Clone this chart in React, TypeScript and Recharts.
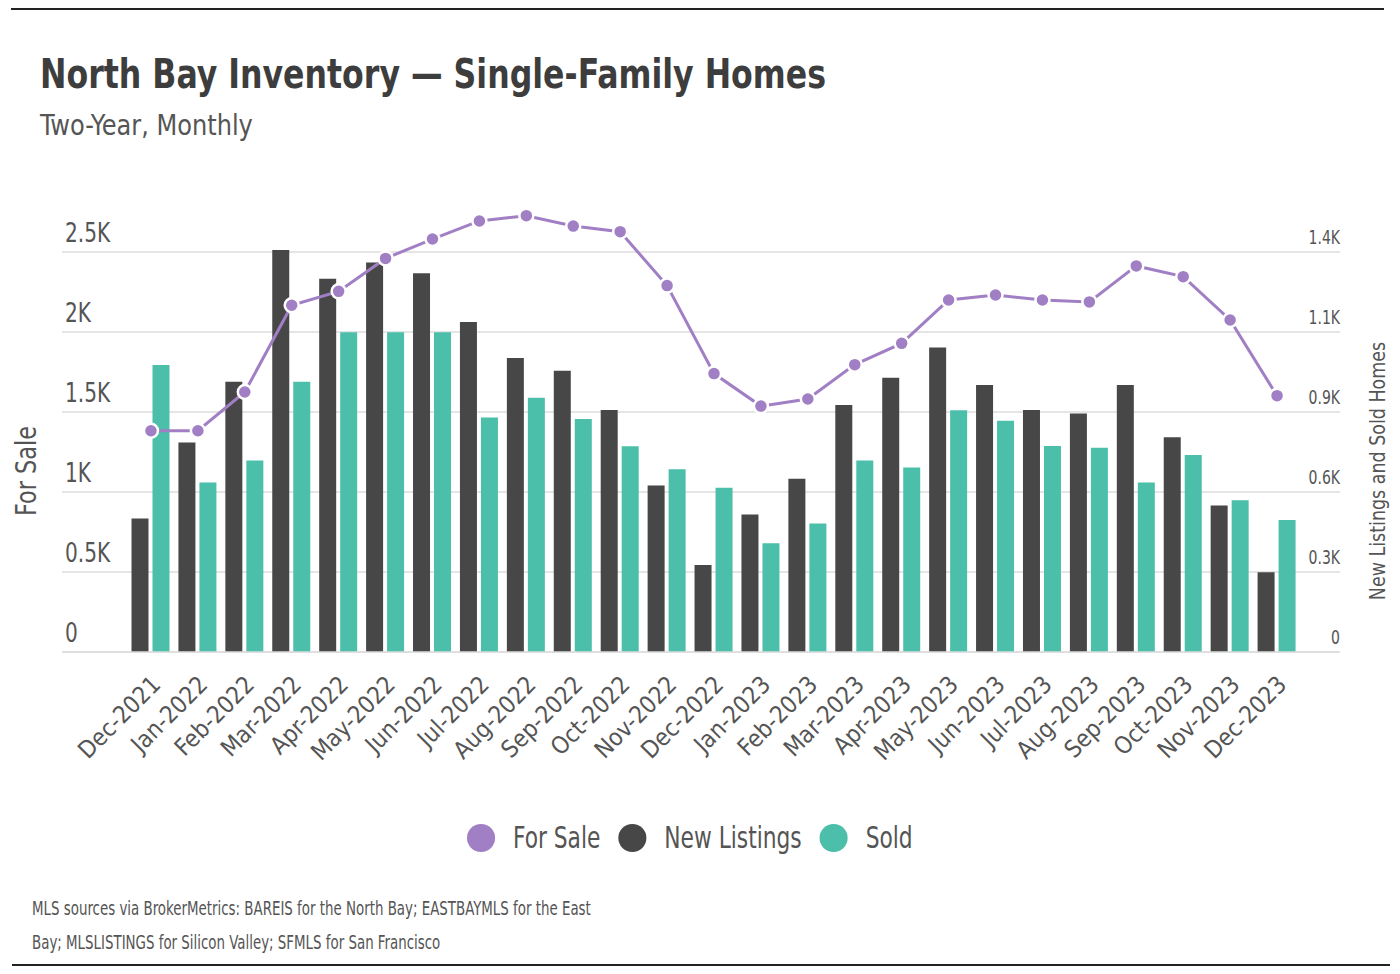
import React from 'react';
import { ComposedChart, Bar, Line, XAxis, YAxis, CartesianGrid } from 'recharts';

const FONT = "'DejaVu Sans Condensed', 'DejaVu Sans', sans-serif";

const MONTHS = [
  'Dec-2021', 'Jan-2022', 'Feb-2022', 'Mar-2022', 'Apr-2022', 'May-2022', 'Jun-2022',
  'Jul-2022', 'Aug-2022', 'Sep-2022', 'Oct-2022', 'Nov-2022', 'Dec-2022', 'Jan-2023',
  'Feb-2023', 'Mar-2023', 'Apr-2023', 'May-2023', 'Jun-2023', 'Jul-2023', 'Aug-2023',
  'Sep-2023', 'Oct-2023', 'Nov-2023', 'Dec-2023',
];

const FOR_SALE = [
  1383, 1383, 1625, 2167, 2254, 2460, 2581, 2694, 2727, 2662, 2627, 2290, 1740, 1537,
  1581, 1796, 1929, 2200, 2231, 2200, 2188, 2413, 2346, 2075, 1602,
];

const NEW_LISTINGS = [
  476, 746, 963, 1432, 1330, 1388, 1349, 1176, 1047, 1002, 862, 593, 310, 490,
  617, 880, 977, 1085, 951, 862, 850, 951, 765, 522, 284,
];

const SOLD = [
  1022, 604, 682, 963, 1139, 1139, 1139, 835, 906, 830, 733, 651, 585, 387,
  458, 682, 657, 861, 824, 734, 728, 604, 702, 541, 470,
];

const LEFT_TICKS = [0, 500, 1000, 1500, 2000, 2500];
const LEFT_TICK_LABELS = ['0', '0.5K', '1K', '1.5K', '2K', '2.5K'];
const RIGHT_TICKS = [0, 285, 570, 855, 1140, 1425];
const RIGHT_TICK_LABELS = ['0', '0.3K', '0.6K', '0.9K', '1.1K', '1.4K'];
const LEFT_DOMAIN = [0, 2800];
const RIGHT_DOMAIN = [0, 1596];

const SERIES_NAMES = ['For Sale', 'New Listings', 'Sold'];
const COLORS = ['#a17fc4', '#474747', '#4bbfaa'];

const data = MONTHS.map((m, i) => ({
  month: m,
  forSale: FOR_SALE[i],
  newListings: NEW_LISTINGS[i],
  sold: SOLD[i],
}));

const LeftTick = (props: any) => {
  const { y, payload } = props;
  const idx = LEFT_TICKS.indexOf(payload.value);
  return (
    <text
      transform={`translate(65, ${y - 10}) scale(0.86, 1)`}
      x={0}
      y={0}
      fontSize={26}
      fill="#555"
      fontFamily={FONT}
      textAnchor="start"
    >
      {LEFT_TICK_LABELS[idx]}
    </text>
  );
};

const RightTick = (props: any) => {
  const { y, payload } = props;
  const idx = RIGHT_TICKS.indexOf(payload.value);
  return (
    <text
      transform={`translate(1340, ${y - 8}) scale(0.78, 1)`}
      x={0}
      y={0}
      fontSize={20}
      fill="#555"
      fontFamily={FONT}
      textAnchor="end"
    >
      {RIGHT_TICK_LABELS[idx]}
    </text>
  );
};

const XTick = (props: any) => {
  const { x, y, payload } = props;
  return (
    <g transform={`translate(${x + 11},${y + 26})`}>
      <text textAnchor="end" transform="rotate(-45)" fontSize={24} fill="#555" fontFamily={FONT}>
        {payload.value}
      </text>
    </g>
  );
};

export default function App() {
  const legendScale = 0.78;
  return (
    <div style={{ position: 'relative', width: 1400, height: 974, background: '#fff', fontFamily: FONT, overflow: 'hidden' }}>
      <style>{'body{margin:0;}'}</style>
      <div style={{ position: 'absolute', left: 11, top: 8, width: 1373, height: 2, background: '#222' }} />
      <div style={{ position: 'absolute', left: 40, top: 54, fontSize: 40, lineHeight: 1, fontWeight: 700, color: '#3d3d3d', whiteSpace: 'nowrap', transform: 'scaleX(0.878)', transformOrigin: 'left top' }}>
        North Bay Inventory — Single-Family Homes
      </div>
      <div style={{ position: 'absolute', left: 40, top: 112, fontSize: 28, lineHeight: 1, color: '#555', whiteSpace: 'nowrap', transform: 'scaleX(0.955)', transformOrigin: 'left top' }}>
        Two-Year, Monthly
      </div>

      <div style={{ position: 'absolute', left: 0, top: 0 }}>
        <ComposedChart
          width={1400}
          height={800}
          data={data}
          margin={{ top: 204, left: 61, right: 59, bottom: 48 }}
          barSize={17}
          barGap={4}
        >
          <CartesianGrid yAxisId="left" horizontal vertical={false} syncWithTicks stroke="#dddddd" strokeWidth={1.5} />
          <XAxis
            dataKey="month"
            interval={0}
            height={100}
            padding={{ left: 65.5, right: 39.5 }}
            tickLine={false}
            axisLine={{ stroke: '#dddddd', strokeWidth: 1.5 }}
            tick={<XTick />}
          />
          <YAxis
            yAxisId="left"
            orientation="left"
            width={1}
            domain={LEFT_DOMAIN}
            ticks={LEFT_TICKS}
            interval={0}
            axisLine={false}
            tickLine={false}
            tick={<LeftTick />}
          />
          <YAxis
            yAxisId="right"
            orientation="right"
            width={1}
            domain={RIGHT_DOMAIN}
            ticks={RIGHT_TICKS}
            interval={0}
            axisLine={false}
            tickLine={false}
            tick={<RightTick />}
          />
          <Bar yAxisId="right" dataKey="newListings" name={SERIES_NAMES[1]} fill={COLORS[1]} isAnimationActive={false} />
          <Bar yAxisId="right" dataKey="sold" name={SERIES_NAMES[2]} fill={COLORS[2]} isAnimationActive={false} />
          <Line
            yAxisId="left"
            type="linear"
            dataKey="forSale"
            name={SERIES_NAMES[0]}
            stroke={COLORS[0]}
            strokeWidth={3}
            dot={{ r: 7, fill: COLORS[0], stroke: '#fff', strokeWidth: 2.5 }}
            activeDot={false}
            isAnimationActive={false}
          />
        </ComposedChart>
      </div>

      <div style={{ position: 'absolute', left: 27, top: 471, transform: 'translate(-50%,-50%) rotate(-90deg) scaleX(0.89)', fontSize: 28, lineHeight: 1, color: '#555', whiteSpace: 'nowrap' }}>
        For Sale
      </div>
      <div style={{ position: 'absolute', left: 1378, top: 471, transform: 'translate(-50%,-50%) rotate(-90deg) scaleX(0.925)', fontSize: 21, lineHeight: 1, color: '#555', whiteSpace: 'nowrap' }}>
        New Listings and Sold Homes
      </div>

      <div style={{ position: 'absolute', left: 467, top: 822, display: 'flex', alignItems: 'center', fontSize: 31, lineHeight: 1, color: '#555', whiteSpace: 'nowrap', transform: `scaleX(${legendScale})`, transformOrigin: 'left center' }}>
        {SERIES_NAMES.map((n, i) => (
          <div key={n} style={{ display: 'flex', alignItems: 'center', marginRight: 18 / legendScale }}>
            <div style={{ width: 28 / legendScale, height: 28, borderRadius: '50%', background: COLORS[i], marginRight: 18 / legendScale }} />
            <span>{n}</span>
          </div>
        ))}
      </div>

      <div style={{ position: 'absolute', left: 32, top: 891, fontSize: 19, lineHeight: '34px', color: '#555', transform: 'scaleX(0.783)', transformOrigin: 'left top' }}>
        <div style={{ whiteSpace: 'nowrap' }}>MLS sources via BrokerMetrics: BAREIS for the North Bay; EASTBAYMLS for the East</div>
        <div style={{ whiteSpace: 'nowrap' }}>Bay; MLSLISTINGS for Silicon Valley; SFMLS for San Francisco</div>
      </div>
      <div style={{ position: 'absolute', left: 12, top: 964, width: 1378, height: 2, background: '#222' }} />
    </div>
  );
}
